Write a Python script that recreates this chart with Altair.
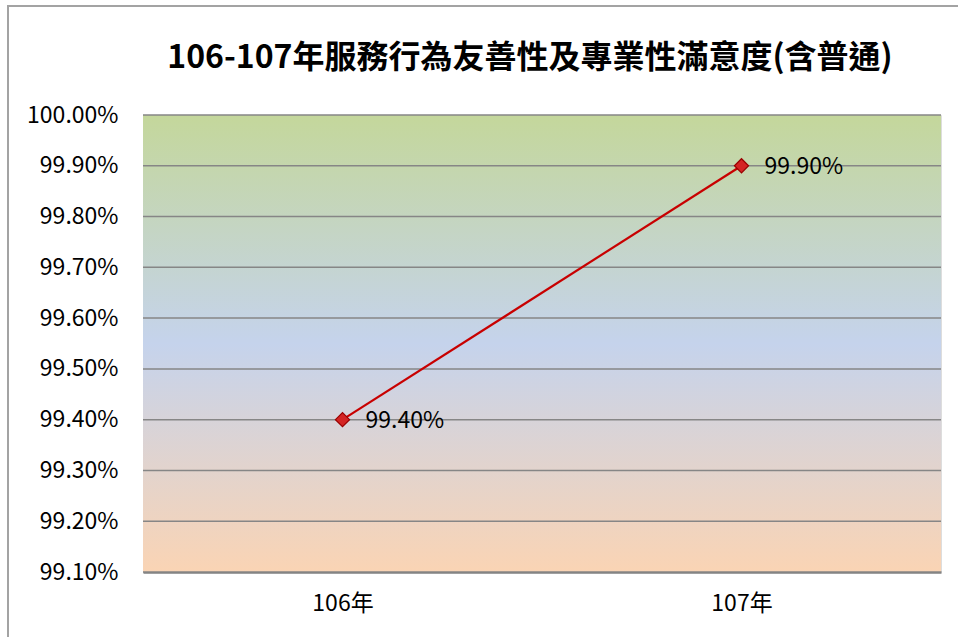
import altair as alt
import pandas as pd

# Satisfaction rate (friendliness & professionalism, incl. "average") by year
years = ["106年", "107年"]
rates = [0.994, 0.999]

# Value-axis ticks / gridlines
y_ticks = [0.991, 0.992, 0.993, 0.994, 0.995, 0.996, 0.997, 0.998, 0.999, 1.000]

W, H = 798, 457
FONT = "Noto Sans CJK TC"

df = pd.DataFrame({"year": years, "rate": rates})
grid_df = pd.DataFrame({"tick": y_ticks})
band_df = pd.DataFrame({"lo": [y_ticks[0]], "hi": [y_ticks[-1]]})

y_scale = alt.Scale(domain=[y_ticks[0], y_ticks[-1]], nice=False, zero=False)
x_scale = alt.Scale(type="point", padding=0.5, domain=years)

y_axis = alt.Axis(values=y_ticks, format=".2%", title=None, grid=False,
                  domain=False, ticks=False, labelFont=FONT,
                  labelFontSize=23, labelColor="#000000", labelPadding=25)

# Plot-area fill: green at top, blue in the middle, peach at the bottom
background = alt.Chart(band_df).mark_rect(
    color=alt.Gradient(
        gradient="linear",
        stops=[
            alt.GradientStop(color="#c4d79b", offset=0),
            alt.GradientStop(color="#c5d3ec", offset=0.5),
            alt.GradientStop(color="#fad4b4", offset=1),
        ],
        x1=0, x2=0, y1=0, y2=1,
    )
).encode(
    x=alt.value(0),
    x2=alt.value(W),
    y=alt.Y("hi:Q", scale=y_scale, axis=y_axis),
    y2="lo:Q",
)

gridlines = alt.Chart(grid_df).mark_rule(color="#868686", strokeWidth=1.5).encode(
    y=alt.Y("tick:Q", scale=y_scale, axis=y_axis),
)

base = alt.Chart(df).encode(
    x=alt.X("year:N", scale=x_scale,
            axis=alt.Axis(title=None, labelAngle=0, ticks=False, grid=False,
                          domainColor="#808080", domainWidth=2.5,
                          labelFont=FONT, labelFontSize=23,
                          labelColor="#000000", labelPadding=20)),
    y=alt.Y("rate:Q", scale=y_scale, axis=y_axis),
)

line = base.mark_line(color="#c80000", strokeWidth=2.2)
points = base.mark_point(shape="diamond", size=200, filled=True,
                         fill="#d42424", stroke="#9a0000", strokeWidth=1.2,
                         opacity=1)
labels = base.mark_text(align="left", baseline="middle", dx=23, dy=1,
                        font=FONT, fontSize=23, color="#000000").encode(
    text=alt.Text("rate:Q", format=".2%")
)

# Light frame around the whole chart
frame = alt.Chart(band_df).mark_rect(fillOpacity=0, stroke="#a3a3a3",
                                     strokeWidth=2).encode(
    x=alt.value(-135), x2=alt.value(W + 60),
    y=alt.value(-109), y2=alt.value(H + 120),
)

chart = alt.layer(background, gridlines, line, points, labels, frame).properties(
    width=W,
    height=H,
    title=alt.TitleParams(
        text="106-107年服務行為友善性及專業性滿意度(含普通)",
        font=FONT, fontSize=32, fontWeight="bold", color="#000000",
        anchor="middle", frame="group", offset=0, dx=-12, dy=70,
    ),
    autosize=alt.AutoSizeParams(type="none"),
    padding={"left": 143, "top": 115, "right": 17, "bottom": 65},
).configure_view(stroke=None).configure(background="#ffffff")

chart.save("out.html", embed_options={"renderer": "svg", "actions": False})
